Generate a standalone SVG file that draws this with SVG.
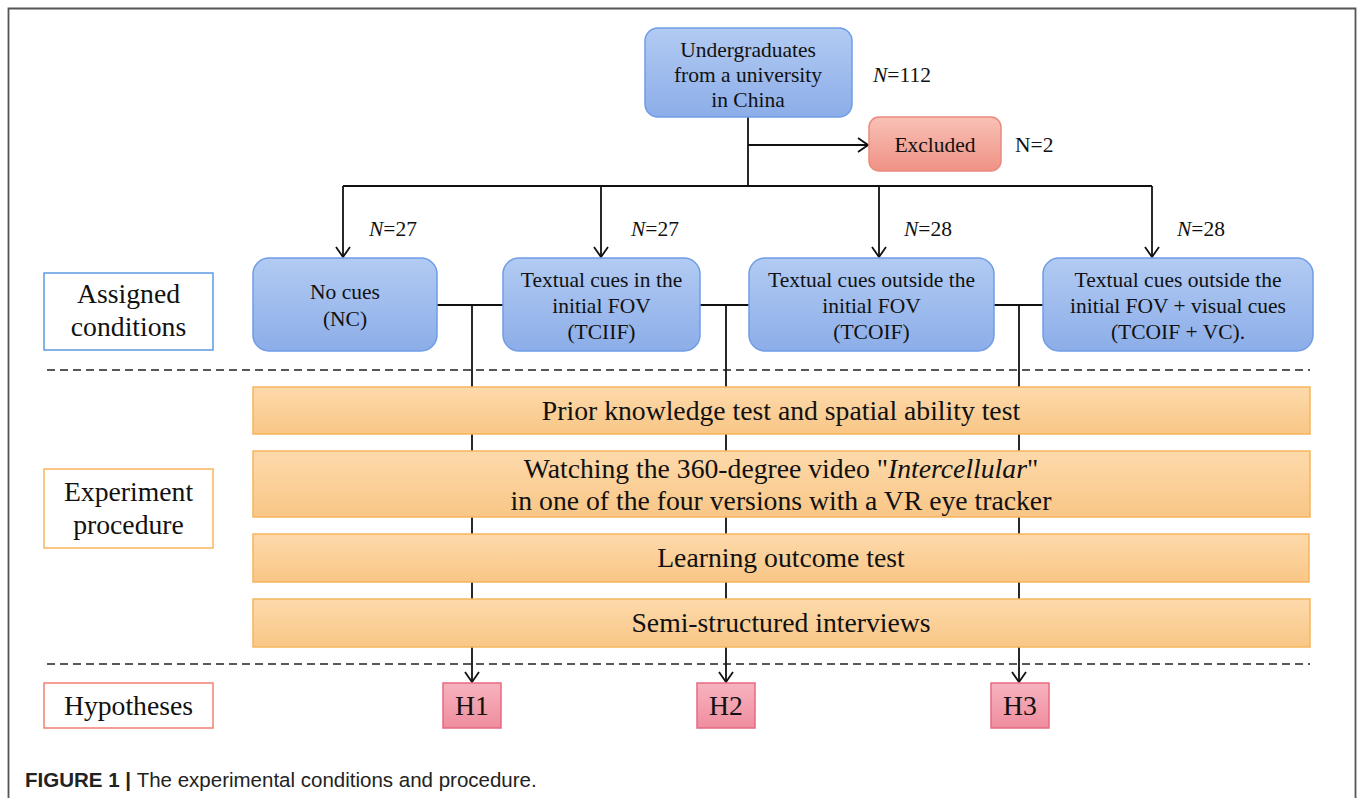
<svg xmlns="http://www.w3.org/2000/svg" width="1358" height="798" viewBox="0 0 1358 798">
  <defs>
    <linearGradient id="gBlue" x1="0" y1="0" x2="0" y2="1">
      <stop offset="0" stop-color="#b2cbf3"/>
      <stop offset="1" stop-color="#8cade8"/>
    </linearGradient>
    <linearGradient id="gOrange" x1="0" y1="0" x2="0" y2="1">
      <stop offset="0" stop-color="#fddaab"/>
      <stop offset="1" stop-color="#f9c686"/>
    </linearGradient>
    <linearGradient id="gRed" x1="0" y1="0" x2="0" y2="1">
      <stop offset="0" stop-color="#f9c1b7"/>
      <stop offset="1" stop-color="#ef9284"/>
    </linearGradient>
    <linearGradient id="gPink" x1="0" y1="0" x2="0" y2="1">
      <stop offset="0" stop-color="#f7b3bf"/>
      <stop offset="1" stop-color="#ef8d9f"/>
    </linearGradient>
    <marker id="arrow" viewBox="0 0 12 16" refX="11" refY="8" markerWidth="12" markerHeight="16" markerUnits="userSpaceOnUse" orient="auto">
      <polyline points="1,1 11,8 1,15" fill="none" stroke="#111" stroke-width="1.8"/>
    </marker>
    <style>
      .t { font-family: "Liberation Serif", "Times New Roman", serif; fill: #111; text-anchor: middle; }
      .s21 { font-size: 21.5px; }
      .s27 { font-size: 27.7px; }
      .blue { fill: url(#gBlue); stroke: #6e9de6; stroke-width: 1.5; }
      .orange { fill: url(#gOrange); stroke: #f6b55c; stroke-width: 1.5; }
      .red { fill: url(#gRed); stroke: #ea8a7d; stroke-width: 1.5; }
      .pink { fill: url(#gPink); stroke: #e8697f; stroke-width: 1.5; }
      .line { fill: none; stroke: #111; stroke-width: 1.8; }
      .dash { fill: none; stroke: #222; stroke-width: 1.5; stroke-dasharray: 8 5; }
      .cap { font-family: "Liberation Sans", Arial, sans-serif; font-size: 20.5px; fill: #222; }
    </style>
  </defs>

  <rect width="1358" height="798" fill="#ffffff"/>
  <!-- figure frame (open at the bottom) -->
  <path d="M8.5 798 V8.5 H1355.5 V798" fill="none" stroke="#555" stroke-width="1.8"/>

  <!-- section separators -->
  <line class="dash" x1="47" y1="370" x2="1310" y2="370"/>
  <line class="dash" x1="47" y1="664" x2="1310" y2="664"/>

  <!-- connectors -->
  <g id="connectors">
    <path class="line" d="M748 117 V186"/>
    <path class="line" d="M748 145 H868" marker-end="url(#arrow)"/>
    <path class="line" d="M343 186 H1152"/>
    <path class="line" d="M343 186 V257" marker-end="url(#arrow)"/>
    <path class="line" d="M601 186 V257" marker-end="url(#arrow)"/>
    <path class="line" d="M879 186 V257" marker-end="url(#arrow)"/>
    <path class="line" d="M1152 186 V257" marker-end="url(#arrow)"/>
    <path class="line" d="M437 305 H503"/>
    <path class="line" d="M700 305 H749"/>
    <path class="line" d="M994 305 H1043"/>
    <path class="line" d="M472 305 V682" marker-end="url(#arrow)"/>
    <path class="line" d="M726 305 V682" marker-end="url(#arrow)"/>
    <path class="line" d="M1019 305 V682" marker-end="url(#arrow)"/>
  </g>

  <!-- edge counts -->
  <g id="counts" class="t s21">
    <text x="873" y="82" text-anchor="start"><tspan font-style="italic">N</tspan>=112</text>
    <text x="1015" y="152" text-anchor="start">N=2</text>
    <text x="369" y="236" text-anchor="start"><tspan font-style="italic">N</tspan>=27</text>
    <text x="631" y="236" text-anchor="start"><tspan font-style="italic">N</tspan>=27</text>
    <text x="904" y="236" text-anchor="start"><tspan font-style="italic">N</tspan>=28</text>
    <text x="1177" y="236" text-anchor="start"><tspan font-style="italic">N</tspan>=28</text>
  </g>

  <!-- participants -->
  <g id="participants">
    <rect class="blue" x="645" y="28" width="207" height="89" rx="13"/>
    <text class="t s21" x="748" y="57">Undergraduates</text>
    <text class="t s21" x="748" y="82">from a university</text>
    <text class="t s21" x="748" y="107">in China</text>
  </g>

  <g id="excluded">
    <rect class="red" x="869" y="117" width="132" height="54" rx="10"/>
    <text class="t s21" x="935" y="152">Excluded</text>
  </g>

  <!-- row labels -->
  <g id="label-assigned">
    <rect x="44" y="273" width="169" height="77" fill="#fff" stroke="#5b9ae0" stroke-width="1.5"/>
    <text class="t s27" x="128.5" y="303">Assigned</text>
    <text class="t s27" x="128.5" y="336">conditions</text>
  </g>
  <g id="label-procedure">
    <rect x="44" y="469" width="169" height="79" fill="#fff" stroke="#f8b65c" stroke-width="1.5"/>
    <text class="t s27" x="128.5" y="501">Experiment</text>
    <text class="t s27" x="128.5" y="534">procedure</text>
  </g>
  <g id="label-hypotheses">
    <rect x="44" y="683" width="169" height="45" fill="#fff" stroke="#f08070" stroke-width="1.5"/>
    <text class="t s27" x="128.5" y="715">Hypotheses</text>
  </g>

  <!-- assigned conditions -->
  <g id="cond-nc">
    <rect class="blue" x="253" y="258" width="184" height="93" rx="16"/>
    <text class="t s21" x="345" y="299">No cues</text>
    <text class="t s21" x="345" y="326">(NC)</text>
  </g>
  <g id="cond-tciif">
    <rect class="blue" x="503" y="258" width="197" height="93" rx="16"/>
    <text class="t s21" x="601.5" y="287">Textual cues in the</text>
    <text class="t s21" x="601.5" y="313">initial FOV</text>
    <text class="t s21" x="601.5" y="339">(TCIIF)</text>
  </g>
  <g id="cond-tcoif">
    <rect class="blue" x="749" y="258" width="245" height="93" rx="16"/>
    <text class="t s21" x="871.5" y="287">Textual cues outside the</text>
    <text class="t s21" x="871.5" y="313">initial FOV</text>
    <text class="t s21" x="871.5" y="339">(TCOIF)</text>
  </g>
  <g id="cond-tcoif-vc">
    <rect class="blue" x="1043" y="258" width="270" height="93" rx="16"/>
    <text class="t s21" x="1178" y="287">Textual cues outside the</text>
    <text class="t s21" x="1178" y="313">initial FOV + visual cues</text>
    <text class="t s21" x="1178" y="339">(TCOIF + VC).</text>
  </g>

  <!-- experiment procedure -->
  <g id="step-prior">
    <rect class="orange" x="253" y="387" width="1057" height="47"/>
    <text class="t s27" x="781" y="420">Prior knowledge test and spatial ability test</text>
  </g>
  <g id="step-video">
    <rect class="orange" x="253" y="451" width="1057" height="66"/>
    <text class="t s27" x="781" y="478">Watching the 360-degree video "<tspan font-style="italic">Intercellular</tspan>"</text>
    <text class="t s27" x="781" y="510">in one of the four versions with a VR eye tracker</text>
  </g>
  <g id="step-outcome">
    <rect class="orange" x="253" y="534" width="1056" height="48"/>
    <text class="t s27" x="781" y="567">Learning outcome test</text>
  </g>
  <g id="step-interview">
    <rect class="orange" x="253" y="599" width="1057" height="48"/>
    <text class="t s27" x="781" y="632">Semi-structured interviews</text>
  </g>

  <!-- hypotheses -->
  <g id="h1">
    <rect class="pink" x="443" y="683" width="58" height="45"/>
    <text class="t s27" x="472" y="715">H1</text>
  </g>
  <g id="h2">
    <rect class="pink" x="697" y="683" width="58" height="45"/>
    <text class="t s27" x="726" y="715">H2</text>
  </g>
  <g id="h3">
    <rect class="pink" x="991" y="683" width="58" height="45"/>
    <text class="t s27" x="1020" y="715">H3</text>
  </g>

  <!-- caption -->
  <text class="cap" x="25" y="787"><tspan font-weight="bold">FIGURE 1 | </tspan>The experimental conditions and procedure.</text>
</svg>
